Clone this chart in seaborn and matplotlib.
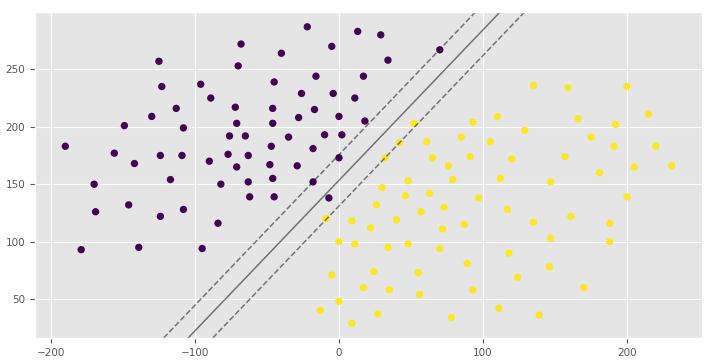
"""
Linear SVM style scatter: two classes with the separating line and margins.
Saves out.png.
"""

import numpy as np
import pandas as pd
import matplotlib
matplotlib.use("Agg")
import matplotlib.pyplot as plt
import seaborn as sns

# class 0 (dark purple) points
purple_x = [-190, -179, -170, -169, -156, -149, -146, -142, -139, -130,
            -125, -123, -124, -124, -117, -113, -109, -108, -108, -96,
            -95, -89, -90, -82, -84, -77, -76, -72, -71, -70,
            -68, -71, -65, -63, -63, -62, -48, -45, -46, -46,
            -47, -46, -45, -40, -35, -29, -28, -26, -22, -18,
            -18, -16, -17, -10, -7, -5, -4, 0, 0, 2,
            11, 13, 17, 18, 29, 34, 70]
purple_y = [183, 93, 150, 126, 177, 201, 132, 168, 95, 209,
            257, 235, 175, 122, 154, 216, 175, 199, 128, 237,
            94, 225, 170, 150, 116, 176, 192, 217, 203, 253,
            272, 165, 192, 175, 152, 139, 167, 239, 216, 203,
            183, 155, 139, 264, 191, 166, 208, 229, 287, 181,
            152, 244, 215, 193, 138, 270, 229, 209, 173, 193,
            225, 283, 244, 205, 280, 258, 267]

# class 1 (yellow) points
yellow_x = [52, 85, 42, 61, 32, 65, 91, 76, 79, 48,
            30, 46, 63, 26, 73, 57, -9, 9, 40, 22,
            72, 87, 0, 11, 34, 48, 70, 89, 97, -5,
            24, 55, 17, 35, 56, 93, 0, -13, 27, 9,
            78, 111, 135, 159, 200, 215, 93, 110, 166, 192,
            129, 105, 175, 191, 220, 120, 157, 205, 231, 181,
            112, 147, 200, 117, 135, 161, 188, 147, 188, 118,
            146, 124, 170, 139]
yellow_y = [203, 191, 186, 187, 173, 173, 174, 166, 154, 153,
            147, 140, 142, 132, 130, 126, 120, 118, 119, 112,
            111, 115, 100, 98, 95, 98, 94, 81, 138, 71,
            74, 73, 60, 58, 54, 58, 48, 40, 37, 29,
            34, 42, 236, 234, 235, 211, 204, 209, 207, 202,
            197, 187, 191, 183, 183, 172, 174, 165, 166, 160,
            155, 152, 139, 128, 117, 122, 116, 103, 100, 90,
            78, 69, 60, 36]

# decision function w . x + b (estimated from the drawn lines)
coef = [0.0587, -0.0448]
intercept = 6.87
levels = [-1, 0, 1]


def build_frame() -> pd.DataFrame:
    df0 = pd.DataFrame({"x": purple_x, "y": purple_y, "label": 0})
    df1 = pd.DataFrame({"x": yellow_x, "y": yellow_y, "label": 1})
    return pd.concat([df0, df1], ignore_index=True)


def main():
    plt.style.use("ggplot")
    df = build_frame()

    fig = plt.figure(figsize=(7.13, 3.61), dpi=100)
    ax = fig.add_axes([35 / 713, 23 / 361, 667 / 713, 326 / 361])

    sns.scatterplot(data=df, x="x", y="y", hue="label",
                    palette=["#440154", "#fde725"], s=28, linewidth=0,
                    legend=False, ax=ax)

    # margins and separating line as contours of the decision function
    xlim = ax.get_xlim()
    ylim = ax.get_ylim()
    xx = np.linspace(xlim[0], xlim[1], 60)
    yy = np.linspace(ylim[0], ylim[1], 60)
    XX, YY = np.meshgrid(xx, yy)
    Z = coef[0] * XX + coef[1] * YY + intercept
    ax.contour(XX, YY, Z, levels=levels, colors="k", alpha=0.5,
               linestyles=["--", "-", "--"], linewidths=1.1)
    ax.set_xlim(xlim)
    ax.set_ylim(ylim)

    ax.set_xticks([-200, -100, 0, 100, 200])
    ax.set_yticks([50, 100, 150, 200, 250])
    ax.tick_params(labelsize=7.5, colors="#555555")
    ax.set_xlabel("")
    ax.set_ylabel("")

    fig.savefig("out.png", dpi=100)
    plt.close(fig)


if __name__ == "__main__":
    main()
